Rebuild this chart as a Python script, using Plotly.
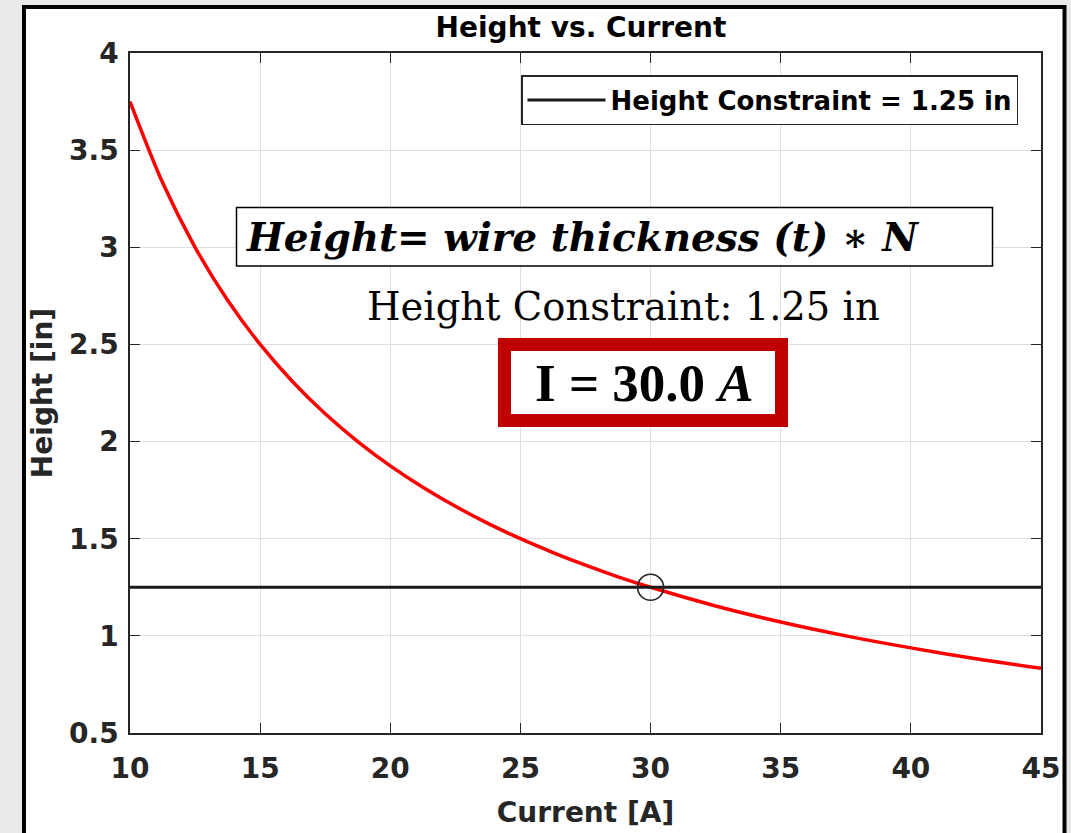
import plotly.graph_objects as go

# Height of the winding versus current
current_a = [10, 11.25, 12.5, 13.75, 15, 16.25, 17.5, 18.75, 20, 21.25, 22.5, 23.75, 25,
             26.25, 27.5, 28.75, 30, 32.5, 35, 37.5, 40, 42.5, 45]
height_in = [3.750, 3.333, 3.000, 2.727, 2.500, 2.308, 2.143, 2.000, 1.875, 1.765, 1.667,
             1.579, 1.500, 1.429, 1.364, 1.304, 1.250, 1.154, 1.071, 1.000, 0.938, 0.882, 0.833]

# Height constraint and the operating point where the curve meets it
constraint_x = [10, 45]
constraint_y = [1.25, 1.25]
constraint_name = "Height Constraint = 1.25 in"
solution_current = [30.0]
solution_height = [1.25]

x_ticks = [10, 15, 20, 25, 30, 35, 40, 45]
y_ticks = [0.5, 1, 1.5, 2, 2.5, 3, 3.5, 4]

W, H = 1071, 833
L, R, T, B = 130, 30, 53, 100
PW, PH = W - L - R, H - T - B


def px(xp):
    return (xp - L) / PW


def py(yp):
    return (H - B - yp) / PH


sans = dict(family="DejaVu Sans", weight="bold")
axis_color = "#262626"

fig = go.Figure()

fig.add_trace(go.Scatter(
    x=current_a, y=height_in, mode="lines",
    line=dict(color="#ff0000", width=3.5, shape="spline", smoothing=0.8),
    showlegend=False, hoverinfo="skip",
))
fig.add_trace(go.Scatter(
    x=constraint_x, y=constraint_y, mode="lines", name=constraint_name,
    line=dict(color="#1a1a1a", width=3),
))
fig.add_trace(go.Scatter(
    x=solution_current, y=solution_height, mode="markers",
    marker=dict(symbol="circle-open", size=26, color="#262626", line=dict(width=1.6)),
    showlegend=False,
))

axis_common = dict(
    showline=True, linecolor=axis_color, linewidth=1.5, mirror="ticks",
    ticks="inside", ticklen=10, tickwidth=1.2, tickcolor=axis_color,
    showgrid=True, gridcolor="#dedede", gridwidth=1, zeroline=False,
    automargin=False,
    tickfont=dict(size=28, color=axis_color, **sans),
    title_font=dict(size=28, color=axis_color, **sans),
)

fig.update_xaxes(range=[10, 45], tickvals=x_ticks, ticktext=[str(v) for v in x_ticks],
                 title_text="Current [A]", title_standoff=18, ticklabelstandoff=10, **axis_common)
fig.update_yaxes(range=[0.5, 4], tickvals=y_ticks, ticktext=[f"{v:g}" for v in y_ticks],
                 title_text="Height [in]", title_standoff=8, ticklabelstandoff=4, **axis_common)

shapes = [
    # outer figure frame
    dict(type="rect", xref="paper", yref="paper", layer="below",
         x0=px(24), x1=px(1064.5), y0=py(850), y1=py(7),
         line=dict(color="black", width=4), fillcolor="white"),
    # equation box
    dict(type="rect", xref="paper", yref="paper",
         x0=px(236.5), x1=px(992.5), y0=py(266), y1=py(207.5),
         line=dict(color="black", width=1.5), fillcolor="white"),
    # result box
    dict(type="rect", xref="paper", yref="paper",
         x0=px(504.5), x1=px(781.5), y0=py(420.5), y1=py(344.5),
         line=dict(color="#c00000", width=13), fillcolor="white"),
]

annotations = [
    dict(text="<b><i>Height= wire thickness (t) ∗ N</i></b>", xref="paper", yref="paper",
         x=px(244), y=py(237), xanchor="left", yanchor="middle", showarrow=False,
         font=dict(family="DejaVu Serif", size=39, color="black")),
    dict(text="Height Constraint: 1.25 in", xref="paper", yref="paper",
         x=px(623), y=py(306), xanchor="center", yanchor="middle", showarrow=False,
         font=dict(family="DejaVu Serif", size=38.5, color="black")),
    dict(text="<b>I = 30.0 <i>A</i></b>", xref="paper", yref="paper",
         x=px(644), y=py(383), xanchor="center", yanchor="middle", showarrow=False,
         font=dict(family="Liberation Serif", size=53, color="black")),
]

fig.update_layout(
    width=W, height=H,
    margin=dict(l=L, r=R, t=T, b=B),
    paper_bgcolor="#e9e9e9", plot_bgcolor="white",
    title=dict(text="Height vs. Current", x=581 / W, xanchor="center",
               y=1 - 27 / H, yanchor="middle",
               font=dict(size=28, color="black", **sans)),
    legend=dict(x=px(1018), y=py(75), xanchor="right", yanchor="top",
                bgcolor="white", bordercolor=axis_color, borderwidth=1.5,
                itemwidth=78, font=dict(size=26, color="black", **sans)),
    shapes=shapes, annotations=annotations,
)

fig.write_html("out.html")
